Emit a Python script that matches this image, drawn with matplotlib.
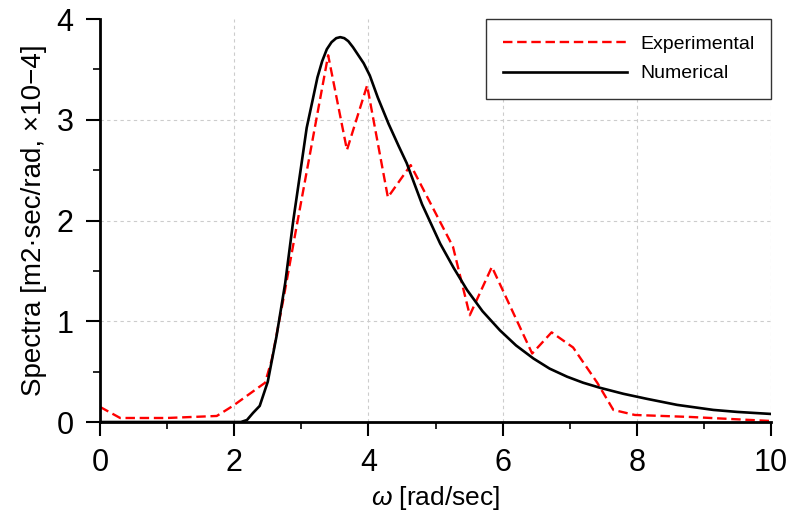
import numpy as np
import matplotlib
matplotlib.use("Agg")
import matplotlib.pyplot as plt

plt.rcParams['font.family'] = ['Liberation Sans', 'DejaVu Sans']
plt.rcParams['mathtext.fontset'] = 'custom'
plt.rcParams['mathtext.rm'] = 'Liberation Sans'
plt.rcParams['mathtext.it'] = 'Liberation Sans:italic'

# values
w_exp = [0, 0.3, 1.0, 1.74, 1.98, 2.46, 2.56, 2.73, 2.91, 3.4, 3.68, 3.98, 4.29,
         4.63, 5.26, 5.51, 5.84, 6.44, 6.73, 7.05, 7.41, 7.65, 7.97, 8.8, 10]
s_exp = [0.15, 0.04, 0.04, 0.06, 0.16, 0.39, 0.62, 1.21, 1.87, 3.64, 2.70, 3.34, 2.23,
         2.55, 1.74, 1.06, 1.54, 0.68, 0.89, 0.74, 0.39, 0.12, 0.07, 0.05, 0.01]

w_num = [0, 2.0, 2.1, 2.19, 2.28, 2.38, 2.5, 2.63, 2.76, 2.88, 3.0, 3.08, 3.17, 3.24,
         3.31, 3.38, 3.45, 3.52, 3.58, 3.64, 3.7, 3.77, 3.85, 3.93, 4.02, 4.14, 4.3,
         4.45, 4.57, 4.8, 5.07, 5.27, 5.47, 5.7, 5.96, 6.2, 6.46, 6.7, 6.96, 7.2,
         7.45, 7.8, 8.15, 8.6, 9.14, 9.5, 10]
s_num = [0, 0, 0, 0.02, 0.09, 0.16, 0.4, 0.85, 1.38, 2.0, 2.55, 2.92, 3.2, 3.42,
         3.58, 3.70, 3.77, 3.81, 3.82, 3.81, 3.78, 3.72, 3.64, 3.56, 3.44, 3.22, 2.96,
         2.74, 2.57, 2.16, 1.77, 1.53, 1.31, 1.10, 0.91, 0.76, 0.63, 0.53, 0.45, 0.39,
         0.34, 0.28, 0.23, 0.17, 0.12, 0.10, 0.08]

fig = plt.figure(figsize=(7.9, 5.18), dpi=100)
ax = fig.add_axes([0.1266, 0.1853, 0.976 - 0.1266, 0.9633 - 0.1853])

ax.plot(w_exp, s_exp, color='red', linestyle=(0, (4, 2)), linewidth=1.7, label='Experimental')
ax.plot(w_num, s_num, color='black', linewidth=1.9, label='Numerical')

ax.set_xlim(0, 10)
ax.set_ylim(0, 4)
ax.set_xticks([0, 2, 4, 6, 8, 10])
ax.set_xticks([1, 3, 5, 7, 9], minor=True)
ax.set_yticks([0, 1, 2, 3, 4])
ax.set_yticks([0.5, 1.5, 2.5, 3.5], minor=True)
ax.grid(True, which='major', color='#cccccc', linestyle=(0, (3, 3)), linewidth=0.8)
ax.yaxis.get_gridlines()[-1].set_visible(False)
ax.set_axisbelow(True)

for s in ['top', 'right']:
    ax.spines[s].set_visible(False)
for s in ['left', 'bottom']:
    ax.spines[s].set_linewidth(2)

ax.tick_params(which='major', direction='out', length=10, width=1.5, labelsize=22, pad=9)
ax.tick_params(which='minor', direction='out', length=5, width=1.2)
ax.tick_params(axis='y', which='major', pad=9)

ax.set_xlabel(r'$\omega$ [rad/sec]', fontsize=19, labelpad=4)
ax.set_ylabel('Spectra [m2·sec/rad, ×10−4]', fontsize=20, labelpad=7)

leg = ax.legend(loc='upper right', bbox_to_anchor=(1.0, 1.0), borderaxespad=0,
                fontsize=14, handlelength=6.4, handletextpad=0.67, labelspacing=0.6,
                borderpad=0.85, fancybox=False, framealpha=1, edgecolor='#333333')
leg.get_frame().set_linewidth(1.0)

fig.savefig("out.png", dpi=100)
